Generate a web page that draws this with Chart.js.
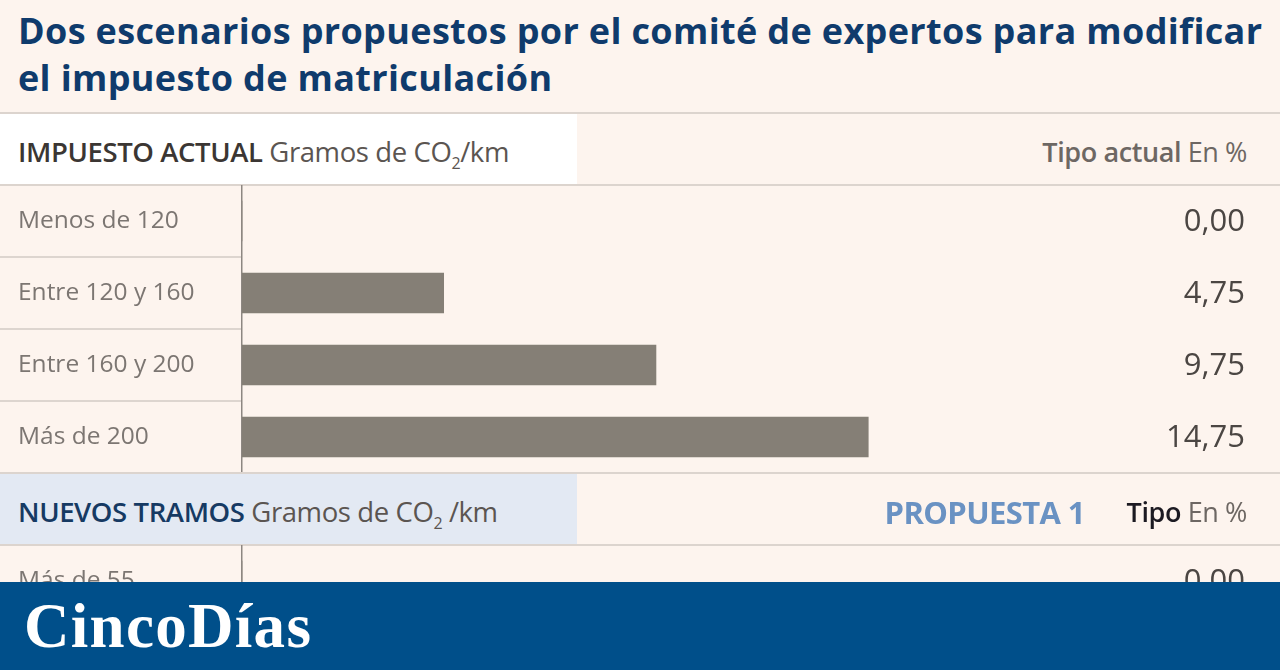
<!DOCTYPE html>
<html lang="es">
<head>
<meta charset="utf-8">
<script src="https://cdn.jsdelivr.net/npm/chart.js@4"></script>
<style>
  html, body { margin: 0; padding: 0; }
  body {
    width: 1280px; height: 670px; overflow: hidden; position: relative;
    background: #fdf4ee; font-family: "Open Sans", sans-serif;
  }
  .abs { position: absolute; }
  #title {
    left: 18px; top: 7px; width: 1262px; white-space: nowrap;
    font-family: "Open Sans", sans-serif; font-weight: 700; font-size: 36px;
    line-height: 47px; color: #0f3b6c; letter-spacing: 0.35px;
  }
  .hline { left: 0; width: 1280px; height: 2px; background: #dcd4ce; }
  .head { left: 0; width: 1280px; height: 70px; }
  .head .box { position: absolute; left: 0; top: 0; width: 577px; height: 70px; }
  .head .lab {
    position: absolute; left: 18px; top: 3px; line-height: 70px;
    font-size: 27.5px; color: #5b5551; letter-spacing: -0.4px; white-space: nowrap;
  }
  .head .lab b { color: #3b3633; font-weight: 600; }
  .head .lab sub { font-size: 16px; vertical-align: -7px; line-height: 0; }
  .head .right {
    position: absolute; right: 33px; top: 3px; line-height: 70px;
    font-size: 27px; color: #6d6763; letter-spacing: -0.4px; white-space: nowrap;
  }
  .head .right b { font-weight: 600; color: #6d6763; }
  #wrap1 { left: 0; top: 185px; width: 1280px; height: 288px; }
  #wrap2 { left: 0; top: 545px; width: 1280px; height: 72px; }
  #band { left: 0; top: 582px; width: 1280px; height: 88px; background: #004f8a; }
  #logo {
    position: absolute; left: 24px; top: 9px; line-height: 70px;
    font-family: "Liberation Serif", serif; font-weight: 700; font-size: 63px;
    color: #ffffff; letter-spacing: 1.3px;
  }
</style>
</head>
<body>
<div id="title" class="abs">Dos escenarios propuestos por el comité de expertos para modificar<br>el impuesto de matriculación</div>

<div class="hline abs" style="top:112px"></div>
<div class="head abs" style="top:114px">
  <div class="box" style="background:#ffffff"></div>
  <div class="lab"><b>IMPUESTO ACTUAL</b> Gramos de CO<sub>2</sub>/km</div>
  <div class="right"><b>Tipo actual</b> En %</div>
</div>
<div class="hline abs" style="top:184px"></div>

<div id="wrap1" class="abs"><canvas id="chartActual"></canvas></div>

<div class="hline abs" style="top:472px"></div>
<div class="head abs" style="top:474px">
  <div class="box" style="background:#e3e9f3"></div>
  <div class="lab"><b style="color:#163a63">NUEVOS TRAMOS</b> Gramos de CO<sub>2</sub> /km</div>
  <div class="right" style="right:195px;color:#6a92c3;font-weight:700;font-size:31px;letter-spacing:-0.6px">PROPUESTA 1</div>
  <div class="right"><b style="color:#1c1a22">Tipo</b> En %</div>
</div>
<div class="hline abs" style="top:544px"></div>

<div id="wrap2" class="abs"><canvas id="chartNuevo"></canvas></div>

<div id="band" class="abs"><div id="logo">CincoDías</div></div>

<script>
// tramos actuales (g CO2/km) y tipo actual (%)
const tramosActual = ['Menos de 120', 'Entre 120 y 160', 'Entre 160 y 200', 'Más de 200'];
const tipoActual = [0, 4.75, 9.75, 14.75];

// primera fila visible de los nuevos tramos (propuesta 1)
const tramosNuevos = ['Más de 55'];
const tipoNuevo = [0];

const xMax = 24;

function fmt(v) {
    return v.toFixed(2).replace('.', ',');
}

// lineas separadoras en la columna de etiquetas + valores a la derecha
const rowPlugin = {
    id: 'rowPlugin',
    afterDatasetsDraw(chart) {
        const ctx = chart.ctx;
        const yScale = chart.scales.y;
        const vals = chart.data.datasets[0].data;
        const left = chart.chartArea.left;

        ctx.save();
        ctx.strokeStyle = '#ddd5cf';
        ctx.lineWidth = 2;
        for (let i = 0; i < vals.length - 1; i++) {
            const yb = (yScale.getPixelForValue(i) + yScale.getPixelForValue(i + 1)) / 2;
            ctx.beginPath();
            ctx.moveTo(0, yb);
            ctx.lineTo(left - 1, yb);
            ctx.stroke();
        }

        ctx.fillStyle = '#4b4643';
        ctx.font = '31px "Open Sans"';
        ctx.textAlign = 'right';
        ctx.textBaseline = 'middle';
        vals.forEach((v, i) => {
            ctx.fillText(fmt(v), 1245, yScale.getPixelForValue(i) + 1);
        });
        ctx.restore();
    }
};

function makeChart(id, labels, values) {
    return new Chart(document.getElementById(id), {
        type: 'bar',
        data: {
            labels: labels,
            datasets: [{
                data: values,
                backgroundColor: '#857f76',
                barThickness: 40
            }]
        },
        options: {
            indexAxis: 'y',
            responsive: true,
            maintainAspectRatio: false,
            animation: false,
            layout: { padding: { left: 18, right: 19, top: 0, bottom: 0 } },
            plugins: { legend: { display: false }, tooltip: { enabled: false } },
            scales: {
                x: { display: false, min: 0, max: xMax },
                y: {
                    grid: { display: false, drawTicks: false },
                    border: { display: true, color: '#8d8782', width: 1.5 },
                    ticks: {
                        crossAlign: 'far',
                        padding: 0,
                        color: '#7c7672',
                        font: { family: 'Open Sans', size: 24.5 }
                    },
                    afterFit(scale) {
                        scale.width = 224;
                        scale.paddingTop = 0;
                        scale.paddingBottom = 0;
                    }
                }
            }
        },
        plugins: [rowPlugin]
    });
}

makeChart('chartActual', tramosActual, tipoActual);
makeChart('chartNuevo', tramosNuevos, tipoNuevo);
</script>
</body>
</html>
